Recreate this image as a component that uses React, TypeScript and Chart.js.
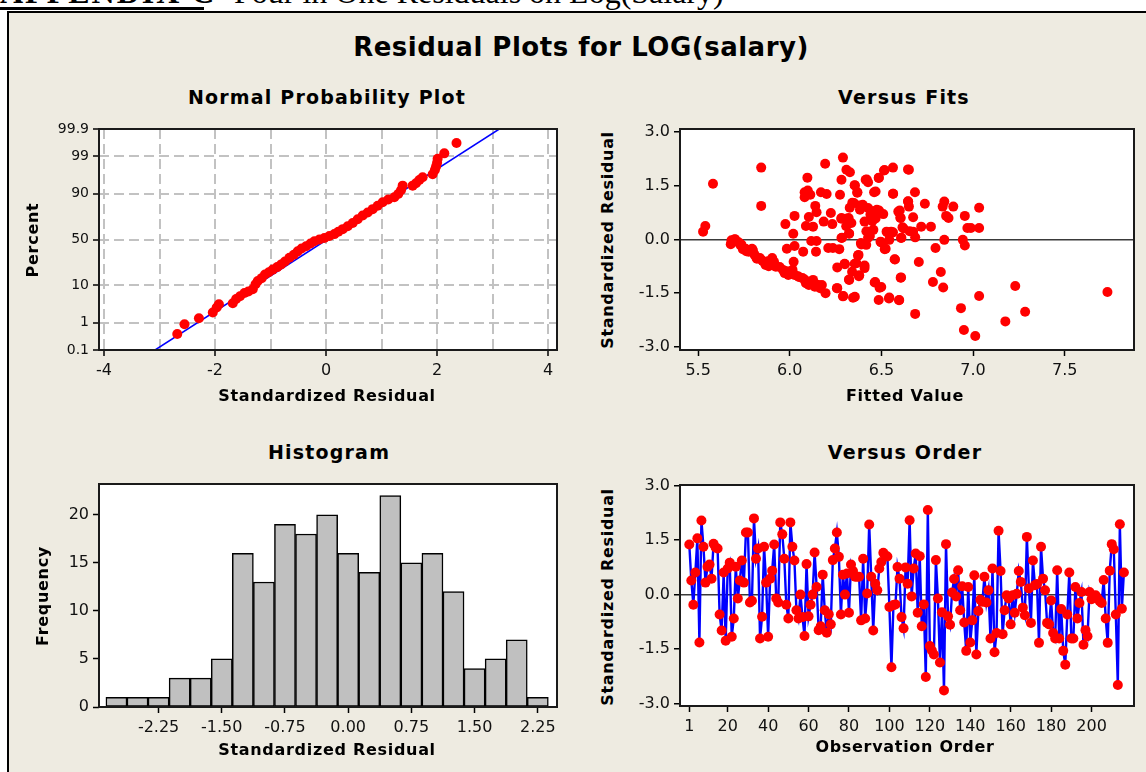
import React, { useEffect, useRef } from 'react';
import { Chart, registerables } from 'chart.js';

Chart.register(...registerables);

// ---------------- DATA ----------------
// Normal probability plot: [standardized residual, percent]
const probPoints = [
  [-2.68, 0.41], [-2.55, 0.89], [-2.29, 1.39], [-2.04, 2.07], [-1.97, 2.87], [-1.93, 3.5],
  [-1.68, 3.75], [-1.62, 4.8], [-1.55, 5.6], [-1.47, 6.7], [-1.4, 7.3], [-1.32, 8.2],
  [-1.27, 10.5], [-1.23, 12.3], [-1.16, 14.0], [-1.1, 16.4], [-1.03, 18.0], [-0.96, 20.0],
  [-0.88, 22.0], [-0.81, 24.2], [-0.74, 27.0], [-0.66, 30.5], [-0.58, 33.5], [-0.51, 37.0],
  [-0.44, 40.0], [-0.36, 42.5], [-0.28, 45.5], [-0.21, 48.0], [-0.12, 50.0], [-0.03, 51.6],
  [0.06, 53.8], [0.15, 56.0], [0.22, 58.5], [0.3, 61.4], [0.39, 64.5], [0.48, 67.7],
  [0.57, 71.5], [0.66, 74.9], [0.75, 77.5], [0.84, 80.2], [0.93, 82.8], [1.02, 85.1],
  [1.12, 86.8], [1.23, 88.1], [1.3, 89.8], [1.35, 91.6], [1.38, 93.4], [1.56, 93.4],
  [1.62, 94.2], [1.68, 95.2], [1.74, 95.9], [1.92, 96.6], [1.96, 97.4], [1.98, 97.9],
  [2.0, 98.4], [2.01, 98.8], [2.13, 99.2], [2.35, 99.65],
];
const probLine = [[-3.08, 0.1], [3.12, 99.9]];
const probYTickPercents = [0.1, 1, 10, 50, 90, 99, 99.9];
const probYTickLabels = ['0.1', '1', '10', '50', '90', '99', '99.9'];
const probXTicks = [-4, -3, -2, -1, 0, 1, 2, 3, 4];

// Versus fits: [fitted value, standardized residual]
const fitsPoints = [
  [5.527, 0.22], [5.539, 0.38], [5.581, 1.56], [5.844, 2.01], [5.844, 0.94],
  [5.678, -0.13], [5.682, -0.02], [5.701, 0.01], [5.721, -0.08], [5.73, -0.15], [5.744, -0.27],
  [5.759, -0.26], [5.775, -0.34], [5.794, -0.26], [5.808, -0.43], [5.821, -0.54], [5.837, -0.52],
  [5.852, -0.6], [5.868, -0.71], [5.885, -0.75], [5.904, -0.52], [5.914, -0.62], [5.924, -0.76],
  [5.963, -0.85], [5.972, -0.94], [5.992, -0.99], [6.015, -0.85], [6.021, -0.62], [6.026, -0.99],
  [6.05, -1.05], [6.069, -1.08], [6.088, -1.22], [6.104, -1.27], [6.127, -1.13], [6.137, -1.32],
  [6.156, -1.27], [6.166, -1.36], [6.175, -1.27], [6.195, -1.5],
  [5.699, 0.0], [5.736, -0.14], [5.763, -0.33], [5.799, -0.3], [5.818, -0.51], [5.854, -0.61],
  [5.881, -0.61], [5.908, -0.7], [5.945, -0.77], [5.981, -0.89], [6.045, -1.03], [6.081, -1.12],
  [6.118, -1.21], [6.145, -1.26],
  [5.976, 0.43], [5.984, -0.26], [6.019, 0.16], [6.026, 0.66], [6.026, -0.18], [6.073, -0.34],
  [6.081, 1.32], [6.081, 1.18], [6.088, 0.38], [6.096, 1.73], [6.098, 1.37], [6.104, 0.63],
  [6.112, 1.25], [6.117, -0.04], [6.127, 0.36], [6.139, 0.94], [6.143, -0.34], [6.146, 0.76],
  [6.146, -0.04], [6.17, 1.32], [6.185, 0.5], [6.193, 2.12], [6.201, 1.27], [6.21, -0.24],
  [6.224, 0.74], [6.232, 0.43], [6.235, -0.24], [6.259, -0.78], [6.259, -1.36], [6.27, -0.27],
  [6.274, 1.25], [6.282, 1.67], [6.282, 0.6], [6.282, 0.04], [6.29, 2.29], [6.292, -1.58],
  [6.301, -0.69], [6.309, 1.95], [6.321, 0.6], [6.324, 0.16], [6.324, -1.13], [6.328, 1.88],
  [6.336, 0.46], [6.34, -0.9], [6.35, 1.02], [6.355, 1.51], [6.355, -1.6], [6.363, -0.66],
  [6.369, 1.32], [6.375, -0.43], [6.379, -1.0], [6.383, 0.83], [6.388, -0.1], [6.398, 0.97],
  [6.408, -0.8], [6.408, 0.5], [6.414, 1.67], [6.417, -0.15], [6.427, 1.6], [6.427, 0.88],
  [6.437, 0.1], [6.446, 0.55], [6.456, 0.27], [6.46, 1.32], [6.466, -1.19], [6.475, 0.83],
  [6.485, 1.72], [6.485, -1.69], [6.495, -0.06], [6.499, -1.33], [6.51, 0.71], [6.514, 1.93],
  [6.518, -0.27], [6.528, 0.22], [6.543, -0.01], [6.543, -1.62], [6.553, 0.22], [6.563, 2.01],
  [6.564, 1.28], [6.572, -0.55], [6.592, 0.78], [6.597, -1.69], [6.605, 0.6], [6.607, 0.04],
  [6.607, -1.06], [6.615, 0.34], [6.646, 1.06], [6.65, 1.95], [6.65, 0.92], [6.673, 0.62],
  [6.673, 0.22], [6.683, 1.32], [6.684, -2.08], [6.684, 0.06], [6.704, -0.63], [6.717, 0.36],
  [6.737, 1.0], [6.77, 0.36], [6.781, -1.19], [6.795, -0.24], [6.824, -0.91], [6.834, 0.92],
  [6.837, -1.34], [6.843, 1.06], [6.843, -0.01], [6.853, 0.66], [6.866, 0.6], [6.892, 0.92],
  [6.934, -1.92], [6.944, -0.01], [6.95, -2.53], [6.955, 0.66], [6.955, -0.17], [6.969, 0.32],
  [6.988, 0.32], [7.012, -2.7], [7.033, 0.89], [7.033, 0.32], [7.033, -1.58], [7.176, -2.29],
  [7.23, -1.3], [7.284, -2.02], [7.733, -1.47],
  [6.341, 1.03], [6.354, 1.52], [6.368, 1.31], [6.327, 0.89], [6.381, 0.95], [6.281, 0.58],
  [6.305, 0.58], [6.308, 0.37], [6.285, 0.05], [6.323, 0.17], [6.299, -0.68], [6.323, -1.12],
  [6.29, -1.59], [6.257, -1.36], [6.354, -0.68], [6.345, -1.63], [6.377, -1.03], [6.372, -0.45],
  [6.408, -0.73], [6.39, -0.14], [6.427, 0.05], [6.418, 0.23], [6.45, 0.51], [6.468, 0.59],
  [6.454, 0.79], [6.487, 0.81], [6.44, 0.7], [6.42, 1.68], [6.486, 1.73], [6.517, 1.94],
  [6.645, 1.96], [6.468, 1.34], [6.563, 1.28], [6.463, -1.2], [6.49, -1.35], [6.541, -1.65],
  [6.596, -1.7], [6.574, -0.56], [6.605, -1.07], [6.499, -0.08], [6.523, -0.26], [6.536, 0.19],
  [6.563, 0.2], [6.609, 0.05], [6.6, 0.81], [6.603, 0.61], [6.645, 1.07], [6.621, 0.31],
  [6.654, 0.23],
];
const fitsXTicks = [5.5, 6.0, 6.5, 7.0, 7.5];
const fitsXLabels = ['5.5', '6.0', '6.5', '7.0', '7.5'];
const residTicks = [-3, -1.5, 0, 1.5, 3];
const residTickLabels = ['-3.0', '-1.5', '0.0', '1.5', '3.0'];

// Histogram
const histCenters = [-2.75, -2.5, -2.25, -2.0, -1.75, -1.5, -1.25, -1.0, -0.75, -0.5, -0.25,
  0.0, 0.25, 0.5, 0.75, 1.0, 1.25, 1.5, 1.75, 2.0, 2.25];
const histCounts = [1, 1, 1, 3, 3, 5, 16, 13, 19, 18, 20, 16, 14, 22, 15, 16, 12, 4, 5, 7, 1];
const histXTicks = [-2.25, -1.5, -0.75, 0, 0.75, 1.5, 2.25];
const histXLabels = ['-2.25', '-1.50', '-0.75', '0.00', '0.75', '1.50', '2.25'];
const histYTicks = [0, 5, 10, 15, 20];

// Versus order (observation 1..216)
const orderResiduals = [
  1.38, 0.39, -0.28, 0.61, 1.55, -1.32, 2.04, 1.32, 0.33, 0.77,
  0.83, 0.44, 1.4, 1.3, 1.27, -0.55, -0.99, 0.61, -1.27, 0.72,
  0.88, -1.16, -0.66, 0.77, -0.11, 0.39, 0.94, 0.33, 1.71, 1.71,
  -0.22, -0.17, 2.1, 0.99, 1.27, -1.21, -0.61, 1.32, 0.33, -1.16,
  0.44, 0.66, 1.38, -0.11, -0.22, 1.99, 1.66, 0.99, -0.28, -0.66,
  1.99, 1.32, 0.94, -0.43, -0.66, 0.0, -0.62, -1.14, 0.84, -0.6,
  -0.28, 0.0, 1.16, 0.21, -0.98, -0.87, 0.55, -0.43, -1.05, -0.54,
  -0.82, 0.95, 1.27, 1.71, 1.04, -0.55, 0.55, 0.0, 0.58, -0.5,
  0.83, 0.65, 0.49, 0.49, 0.49, -0.71, 0.99, -0.66, 0.03, 1.93,
  0.49, -0.99, 0.3, 0.12, 0.72, 0.9, 1.15, 1.08, 1.05, -0.34,
  -2.0, -0.29, -0.27, 0.76, 0.44, -0.62, -0.93, 0.75, 0.3, 2.05,
  -0.05, 0.72, 1.13, -0.5, 1.06, -0.87, -0.27, -2.27, 2.33, -1.42,
  -1.54, -1.65, 0.95, -0.11, -1.87, -0.49, -2.64, 1.39, -0.6, -0.83,
  0.06, 0.43, -0.05, 0.67, -0.43, 0.23, -0.77, -1.55, 0.21, -1.32,
  -0.71, 0.53, -1.65, -0.45, -0.14, -0.2, 0.49, -0.22, 0.12, -1.21,
  0.72, -1.59, -1.06, 1.76, 0.65, -1.09, -0.43, -0.02, -0.11, -0.82,
  -0.02, -0.5, 0.02, 0.65, 0.35, -0.36, -0.57, 1.59, 0.17, -0.78,
  0.94, 0.26, 0.29, -1.33, 1.32, 0.44, 0.12, -0.78, -0.82, -0.16,
  -1.06, -1.21, 0.67, -1.21, -0.4, -1.55, -1.93, -0.55, 0.61, -1.21,
  -1.21, 0.21, -0.66, -0.23, 0.07, -1.38, -0.98, -1.15, 0.07, -0.13,
  -0.06, -0.02, -0.1, -0.18, -0.23, 0.4, -0.66, -1.33, 0.66, 1.39,
  1.25, -0.55, -2.49, 1.94, -0.39, 0.61,
];
const orderXTicks = [1, 20, 40, 60, 80, 100, 120, 140, 160, 180, 200];

// ---------------- HELPERS ----------------
function probit(p: number): number {
  const a = [-39.69683028665376, 220.9460984245205, -275.9285104469687, 138.357751867269, -30.66479806614716, 2.506628277459239];
  const b = [-54.47609879822406, 161.5858368580409, -155.6989798598866, 66.80131188771972, -13.28068155288572];
  const c = [-0.007784894002430293, -0.3223964580411365, -2.400758277161838, -2.549732539343734, 4.374664141464968, 2.938163982698783];
  const d = [0.007784695709041462, 0.3224671290700398, 2.445134137142996, 3.754408661907416];
  const plow = 0.02425;
  if (p < plow) {
    const q = Math.sqrt(-2 * Math.log(p));
    return (((((c[0] * q + c[1]) * q + c[2]) * q + c[3]) * q + c[4]) * q + c[5]) / ((((d[0] * q + d[1]) * q + d[2]) * q + d[3]) * q + 1);
  }
  if (p <= 1 - plow) {
    const q = p - 0.5, r = q * q;
    return (((((a[0] * r + a[1]) * r + a[2]) * r + a[3]) * r + a[4]) * r + a[5]) * q / (((((b[0] * r + b[1]) * r + b[2]) * r + b[3]) * r + b[4]) * r + 1);
  }
  const q = Math.sqrt(-2 * Math.log(1 - p));
  return -(((((c[0] * q + c[1]) * q + c[2]) * q + c[3]) * q + c[4]) * q + c[5]) / ((((d[0] * q + d[1]) * q + d[2]) * q + d[3]) * q + 1);
}

const FONT = '"DejaVu Sans", Verdana, sans-serif';
const tickFont = { family: FONT, size: 16 };
const INK = '#111';

const framePlugin = {
  id: 'plotFrame',
  beforeDraw(chart: any) {
    const { ctx, chartArea } = chart;
    ctx.save();
    ctx.fillStyle = '#ffffff';
    ctx.fillRect(chartArea.left, chartArea.top, chartArea.right - chartArea.left, chartArea.bottom - chartArea.top);
    ctx.restore();
  },
  afterDraw(chart: any) {
    const { ctx, chartArea } = chart;
    ctx.save();
    ctx.strokeStyle = '#1a1a1a';
    ctx.lineWidth = 2;
    ctx.strokeRect(chartArea.left, chartArea.top, chartArea.right - chartArea.left, chartArea.bottom - chartArea.top);
    ctx.restore();
  },
};

function baseOptions(L: number, T: number, R: number) {
  return {
    responsive: false,
    animation: false,
    events: [],
    layout: { padding: { top: T, right: R, left: 0, bottom: 0 } },
    plugins: { legend: { display: false }, tooltip: { enabled: false }, title: { display: false } },
  };
}

function xScale(B: number, min: number, max: number, tickVals: number[], labelFn: (v: number, i: number) => string, grid: any, border: any = { display: false }) {
  return {
    type: 'linear',
    min, max,
    offset: false,
    afterFit: (s: any) => { s.height = B; },
    afterBuildTicks: (s: any) => { s.ticks = tickVals.map((v) => ({ value: v })); },
    ticks: {
      autoSkip: false, maxRotation: 0, minRotation: 0, padding: 5,
      font: tickFont, color: INK,
      callback: (v: number, i: number) => labelFn(v, i),
    },
    grid: Object.assign({ offset: false, tickLength: 6, tickWidth: 1.5, tickColor: '#000', drawOnChartArea: false, tickBorderDash: [] }, grid),
    border,
  };
}

function yScale(L: number, min: number, max: number, tickVals: number[], labels: string[], grid: any, fontSize = 16, border: any = { display: false }) {
  return {
    type: 'linear',
    min, max,
    afterFit: (s: any) => { s.width = L; },
    afterBuildTicks: (s: any) => { s.ticks = tickVals.map((v) => ({ value: v })); },
    ticks: {
      autoSkip: false, padding: 4,
      font: { family: FONT, size: fontSize }, color: INK,
      callback: (_v: number, i: number) => labels[i],
    },
    grid: Object.assign({ tickLength: 6, tickWidth: 1.5, tickColor: '#000', drawOnChartArea: false, tickBorderDash: [] }, grid),
    border,
  };
}

const zeroLineGrid = {
  drawOnChartArea: true,
  lineWidth: 1.5,
  color: (ctx: any) => (ctx.tick && ctx.tick.value === 0 ? '#3a3a3a' : 'rgba(0,0,0,0)'),
};

// ---------------- CHART CONFIGS ----------------
function probConfig() {
  const L = 59, T = 19, R = 23, B = 40;
  const dashedGrid = { drawOnChartArea: true, color: '#c2c2c2', lineWidth: 2 };
  const dashedBorder = { display: false, dash: [10, 5] };
  return {
    type: 'scatter',
    data: {
      datasets: [
        {
          data: probPoints.map((p) => ({ x: p[0], y: probit(p[1] / 100) })),
          pointRadius: 5, pointBackgroundColor: '#ff0000', pointBorderWidth: 0,
        },
        {
          data: probLine.map((p) => ({ x: p[0], y: probit(p[1] / 100) })),
          showLine: true, borderColor: '#0000ff', borderWidth: 1.5, pointRadius: 0,
        },
      ],
    },
    options: Object.assign(baseOptions(L, T, R), {
      scales: {
        x: xScale(B, -4.09, 4.16, probXTicks, (v) => (v % 2 === 0 ? String(v) : ''),
          Object.assign({}, dashedGrid, { tickColor: (ctx: any) => (ctx.tick && ctx.tick.value % 2 === 0 ? '#000' : 'rgba(0,0,0,0)') }),
          dashedBorder),
        y: yScale(L, probit(0.001), probit(0.999), probYTickPercents.map((p) => probit(p / 100)), probYTickLabels,
          dashedGrid, 14, dashedBorder),
      },
    }),
    plugins: [framePlugin],
  };
}

function fitsConfig() {
  const L = 60, T = 19, R = 12, B = 40;
  return {
    type: 'scatter',
    data: {
      datasets: [{
        data: fitsPoints.map((p) => ({ x: p[0], y: p[1] })),
        pointRadius: 5, pointBackgroundColor: '#ff0000', pointBorderWidth: 0,
      }],
    },
    options: Object.assign(baseOptions(L, T, R), {
      scales: {
        x: xScale(B, 5.401, 7.878, fitsXTicks, (_v, i) => fitsXLabels[i], {}),
        y: yScale(L, -3.09, 3.09, residTicks, residTickLabels, zeroLineGrid),
      },
    }),
    plugins: [framePlugin],
  };
}

function histConfig() {
  const L = 59, T = 19, R = 23, B = 40;
  return {
    type: 'bar',
    data: {
      datasets: [{
        data: histCenters.map((c, i) => ({ x: c, y: histCounts[i] })),
        backgroundColor: '#c0c0c0', borderColor: '#000', borderWidth: 1.5,
        borderSkipped: false, barPercentage: 1, categoryPercentage: 1,
      }],
    },
    options: Object.assign(baseOptions(L, T, R), {
      scales: {
        x: xScale(B, -2.957, 2.478, histXTicks, (_v, i) => histXLabels[i], {}),
        y: yScale(L, 0, 23.2, histYTicks, histYTicks.map(String), {}),
      },
    }),
    plugins: [framePlugin],
  };
}

function orderConfig() {
  const L = 60, T = 19, R = 12, B = 40;
  return {
    type: 'scatter',
    data: {
      datasets: [{
        data: orderResiduals.map((v, i) => ({ x: i + 1, y: v })),
        showLine: true, borderColor: '#0000ff', borderWidth: 2.4,
        pointRadius: 5, pointBackgroundColor: '#ff0000', pointBorderWidth: 0,
      }],
    },
    options: Object.assign(baseOptions(L, T, R), {
      scales: {
        x: xScale(B, -3.6, 221, orderXTicks, (v) => String(v), {}),
        y: yScale(L, -3.07, 3.02, residTicks, residTickLabels, zeroLineGrid),
      },
    }),
    plugins: [framePlugin],
  };
}

// ---------------- COMPONENTS ----------------
function ChartBox(props: { left: number; top: number; width: number; height: number; make: () => any }) {
  const ref = useRef<HTMLCanvasElement | null>(null);
  useEffect(() => {
    const chart = new Chart(ref.current as HTMLCanvasElement, props.make());
    return () => chart.destroy();
  }, []);
  return (
    <canvas
      ref={ref}
      width={props.width}
      height={props.height}
      style={{ position: 'absolute', left: props.left, top: props.top, width: props.width, height: props.height }}
    />
  );
}

function Label(props: { x: number; y: number; size: number; text: string; rot?: boolean; ls?: number }) {
  return (
    <div
      style={{
        position: 'absolute', left: props.x, top: props.y,
        transform: `translate(-50%, -50%)${props.rot ? ' rotate(-90deg)' : ''}`,
        fontFamily: FONT, fontWeight: 'bold', fontSize: props.size,
        letterSpacing: props.ls || 0, whiteSpace: 'nowrap', color: '#000', lineHeight: 1,
      }}
    >
      {props.text}
    </div>
  );
}

export default function App() {
  return (
    <div style={{ position: 'fixed', left: 0, top: 0, width: 1146, height: 772, background: '#fff', overflow: 'hidden' }}>
      {/* document heading, clipped at top */}
      <div style={{ position: 'absolute', left: 0, top: -24, fontFamily: '"Liberation Serif", "Times New Roman", serif', fontSize: 32, lineHeight: 1, fontWeight: 'bold', letterSpacing: 2, whiteSpace: 'nowrap', color: '#000' }}>
        APPENDIX C
      </div>
      <div style={{ position: 'absolute', left: 0, top: 7, width: 204, height: 3, background: '#000' }} />
      <div style={{ position: 'absolute', left: 210, top: -24, fontFamily: '"Liberation Serif", "Times New Roman", serif', fontSize: 32, lineHeight: 1, whiteSpace: 'nowrap', color: '#000' }}>
        – Four in One Residuals on Log(Salary)
      </div>

      {/* graph frame */}
      <div style={{ position: 'absolute', left: 7, top: 11, width: 1160, height: 800, borderLeft: '2px solid #000', borderTop: '2px solid #000', background: '#eeebe1' }} />

      <ChartBox left={40} top={110} width={540} height={280} make={probConfig} />
      <ChartBox left={620} top={110} width={526} height={280} make={fitsConfig} />
      <ChartBox left={40} top={465} width={540} height={282} make={histConfig} />
      <ChartBox left={620} top={466} width={526} height={280} make={orderConfig} />

      <Label x={581} y={47} size={26} ls={0.5} text="Residual Plots for LOG(salary)" />
      <Label x={327} y={97} size={19} ls={1.2} text="Normal Probability Plot" />
      <Label x={904} y={97} size={19} ls={1.2} text="Versus Fits" />
      <Label x={329} y={452} size={19} ls={1.2} text="Histogram" />
      <Label x={905} y={452} size={19} ls={1.2} text="Versus Order" />

      <Label x={327} y={396} size={16} ls={0.7} text="Standardized Residual" />
      <Label x={905} y={396} size={16} ls={0.7} text="Fitted Value" />
      <Label x={327} y={750} size={16} ls={0.7} text="Standardized Residual" />
      <Label x={905} y={747} size={16} ls={0.7} text="Observation Order" />

      <Label x={33} y={240} size={16} ls={0.7} rot text="Percent" />
      <Label x={608} y={240} size={16} ls={0.7} rot text="Standardized Residual" />
      <Label x={43} y={596} size={16} ls={0.7} rot text="Frequency" />
      <Label x={608} y={597} size={16} ls={0.7} rot text="Standardized Residual" />
    </div>
  );
}
